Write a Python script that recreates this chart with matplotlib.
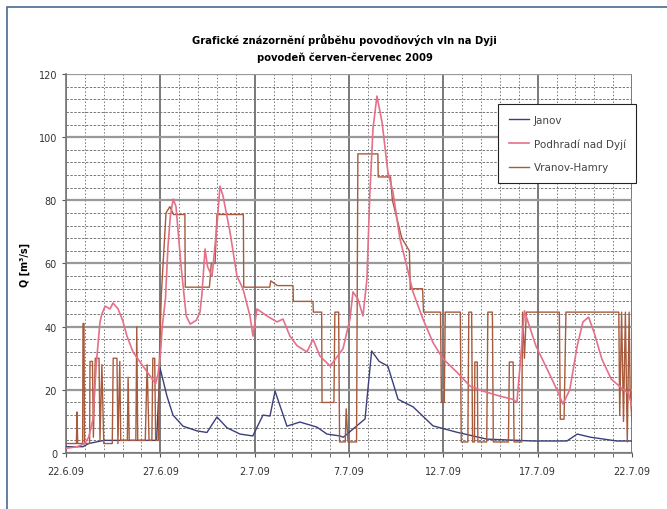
import matplotlib.pyplot as plt
from matplotlib.patches import Rectangle
from matplotlib.ticker import MultipleLocator

# days since 22.6.2009
tick_days = [0, 5, 10, 15, 20, 25, 30]
tick_labels = ['22.6.09', '27.6.09', '2.7.09', '7.7.09', '12.7.09', '17.7.09', '22.7.09']

# Janov
t_jan = [0, 0.9, 1.2, 2, 3, 4, 4.8, 4.98, 5.35, 5.67, 6.2, 6.94, 7.47, 8.0, 8.53, 9.22, 9.9,
         10.44, 10.81, 11.08, 11.34, 11.71, 12.4, 13.3, 13.83, 14.52, 14.7, 15.85, 16.2, 16.6,
         17.06, 17.6, 18.4, 19.45, 20.7, 22.3, 24.75, 26.55, 27.1, 27.8, 29.2, 30]
q_jan = [2, 2, 3, 4, 4, 4, 4, 27, 18, 12, 8.5, 7, 6.5, 11.4, 8, 6, 5.4,
         12, 11.7, 19.6, 15, 8.5, 9.8, 8.2, 6, 5.4, 5, 10.8, 32.3, 29, 27.5, 17, 14.6, 8.6,
         6.6, 4.4, 3.8, 3.8, 6, 5, 3.8, 3.8]

# Podhradi nad Dyji
t_pod = [0, 0.6, 1.0, 1.2, 1.43, 1.6, 1.8, 1.9, 2.07, 2.33, 2.49, 2.76, 3.0, 3.23, 3.55, 4.08,
         4.56, 4.75, 4.88, 5.0, 5.1, 5.27, 5.4, 5.53, 5.68, 5.83, 6.1, 6.37, 6.58, 6.9, 7.1, 7.2,
         7.37, 7.5, 7.74, 8.0, 8.16, 8.32, 8.69, 9.06, 9.38, 9.75, 9.91, 10.12, 10.65, 11.18,
         11.5, 11.87, 12.24, 12.77, 13.09, 13.46, 14.0, 14.68, 15.05, 15.21, 15.47, 15.74,
         15.95, 16.1, 16.27, 16.48, 16.75, 17.06, 17.33, 17.7, 18.07, 18.39, 18.92, 19.45,
         19.98, 20.72, 21.41, 22.1, 23.0, 23.69, 23.9, 24.1, 24.3, 24.9, 25.5, 26.0, 26.34,
         26.7, 27.1, 27.4, 27.7, 28.0, 28.4, 28.9, 29.5, 29.8, 30]
q_pod = [1.5, 2, 3, 5, 10.7, 28, 41.5, 44, 46.5, 45.6, 47.5, 45.6, 42, 37, 32, 27.5,
         23.5, 22, 25, 31, 40, 48.8, 65, 75, 80.4, 78, 59, 43.4, 40.8, 42, 44.6, 50,
         64.6, 59, 56, 72, 84.5, 81.4, 70, 56, 52, 43.4, 37, 45.6, 43.4, 41.5,
         42.4, 37, 34, 32, 36, 30.7, 27.5, 33, 42.4, 51, 48.8, 43.4,
         55, 81.4, 102.6, 113, 104.8, 89, 82.6, 67.8, 59, 51, 42.4, 35,
         29.8, 25.6, 21.2, 19.6, 18, 17, 16, 30, 45, 34, 26.6, 20.3, 15.5,
         20, 34, 41.5, 43, 38, 29.8, 23.4, 20.3, 19, 15]

# Vranov-Hamry
t_vra = [0, 0.55, 0.58, 0.62, 0.88, 0.9, 0.95, 0.98, 1.25, 1.27, 1.4, 1.45, 1.55, 1.75, 1.8,
         1.9, 2.0, 2.45, 2.5, 2.7, 2.75, 2.85, 2.9, 3.25, 3.29, 3.35, 3.7, 3.75, 3.8, 4.2, 4.3,
         4.4, 4.55, 4.6, 4.7, 4.75, 4.9, 4.95, 5.05, 5.3, 5.5, 5.7, 6.3, 6.32, 7.6, 7.7, 7.9,
         8.0, 9.4, 9.42, 10.8, 10.85, 11.2, 12.03, 12.05, 13.09, 13.11, 13.55, 13.57, 14.2,
         14.25, 14.45, 14.5, 14.8, 14.85, 14.95, 15.4, 15.47, 16.53, 16.55, 17.2, 17.3, 17.8,
         18.2, 18.25, 18.9, 18.95, 19.85, 19.9, 20.05, 20.1, 20.9, 20.95, 21.3, 21.35, 21.5,
         21.55, 21.65, 21.67, 21.8, 21.83, 22.3, 22.36, 22.6, 22.65, 23.45, 23.5, 23.7, 23.75,
         24.15, 24.2, 24.3, 24.4, 26.15, 26.2, 26.4, 26.5, 29.3, 29.35, 29.45, 29.55, 29.65,
         29.75, 29.85, 29.9, 30]
q_vra = [3, 3, 13, 3, 3, 41, 41, 3, 3, 29, 29, 5, 30, 30, 4,
         28, 3, 3, 30, 30, 3, 29, 4, 4, 24, 4, 4, 40, 4, 4, 28,
         4, 4, 30, 30, 4, 4, 30, 50, 76, 78, 75.5, 75.5, 52.5, 52.5, 60, 60,
         75.5, 75.5, 52.5, 52.5, 54.5, 53, 53, 48, 48, 44.6, 44.6, 16, 16,
         44.6, 44.6, 3.5, 3.5, 14, 3.5, 3.5, 94.7, 94.7, 87.4, 87.4, 80, 68,
         64, 52, 52, 44.6, 44.6, 16, 16, 44.6, 44.6, 3.5, 3.5, 44.6, 44.6,
         3.5, 3.5, 28.8, 28.8, 3.5, 3.5, 44.6, 44.6, 3.5, 3.5, 28.8, 28.8, 3.5,
         3.5, 44.6, 30, 44.6, 44.6, 10.7, 10.7, 44.6, 44.6, 12, 44.6, 10, 44.6,
         3.5, 44.6, 20, 10]

fig = plt.figure(figsize=(6.67, 5.1), dpi=100)
ax = fig.add_axes([0.099, 0.1098, 0.8485, 0.7432])

# outer frame (only left and top edge visible)
fig.patches.append(Rectangle((7 / 667, -0.1), 1.2, 1.1 - 8 / 510, transform=fig.transFigure,
                             fill=False, edgecolor='#4a6a90', linewidth=1.2))

ax.plot(t_jan, q_jan, color='#3b3f7a', lw=1.0, label='Janov', zorder=3)
ax.plot(t_pod, q_pod, color='#e4708a', lw=1.2, label='Podhradí nad Dyjí', zorder=4)
ax.plot(t_vra, q_vra, color='#a85a3c', lw=1.0, label='Vranov-Hamry', zorder=3)

ax.set_xlim(0, 30)
ax.set_ylim(0, 120)
ax.set_xticks(tick_days)
ax.set_xticklabels(tick_labels)
ax.xaxis.set_minor_locator(MultipleLocator(1))
ax.set_yticks(range(0, 121, 20))
ax.yaxis.set_minor_locator(MultipleLocator(4))

ax.grid(which='major', axis='y', color='#999999', lw=1.6)
ax.grid(which='minor', axis='y', color='#777777', lw=0.7, ls=(0, (2.5, 1.5)))
ax.grid(which='major', axis='x', color='#555555', lw=1.1)
ax.grid(which='minor', axis='x', color='#777777', lw=0.7, ls=(0, (1.5, 2)))
ax.set_axisbelow(True)

for s in ['top', 'right']:
    ax.spines[s].set_visible(False)
for s in ['left', 'bottom']:
    ax.spines[s].set_color('#777777')
    ax.spines[s].set_linewidth(1.2)

ax.tick_params(axis='both', which='major', labelsize=7, colors='#555555', length=3)
ax.tick_params(axis='x', which='minor', length=3, color='#555555')
ax.tick_params(axis='y', which='minor', length=0)
for lab in ax.get_xticklabels() + ax.get_yticklabels():
    lab.set_fontfamily('Liberation Sans Narrow')
    lab.set_color('#333333')
ax.tick_params(axis='x', pad=6)

ax.set_ylabel('Q [m³/s]', fontsize=7, fontweight='bold', family='DejaVu Sans', labelpad=6)

fig.text(0.517, 0.905, 'Grafické znázornění průběhu povodňových vln na Dyji\npovodeň červen-červenec 2009',
         ha='center', va='center', fontsize=8, fontweight='bold', family='DejaVu Sans',
         fontstretch='condensed', linespacing=1.7)

leg = ax.legend(loc='upper left', bbox_to_anchor=(493 / 667, 1 - 100 / 510), bbox_transform=fig.transFigure,
                fontsize=7.5, frameon=True, fancybox=False, edgecolor='#222222', framealpha=1,
                handlelength=2.0, labelspacing=1.3, borderpad=1.0, handletextpad=0.4)
leg.get_frame().set_linewidth(0.8)
for txt in leg.get_texts():
    txt.set_color('#444444')

fig.savefig('out.png', dpi=100)
